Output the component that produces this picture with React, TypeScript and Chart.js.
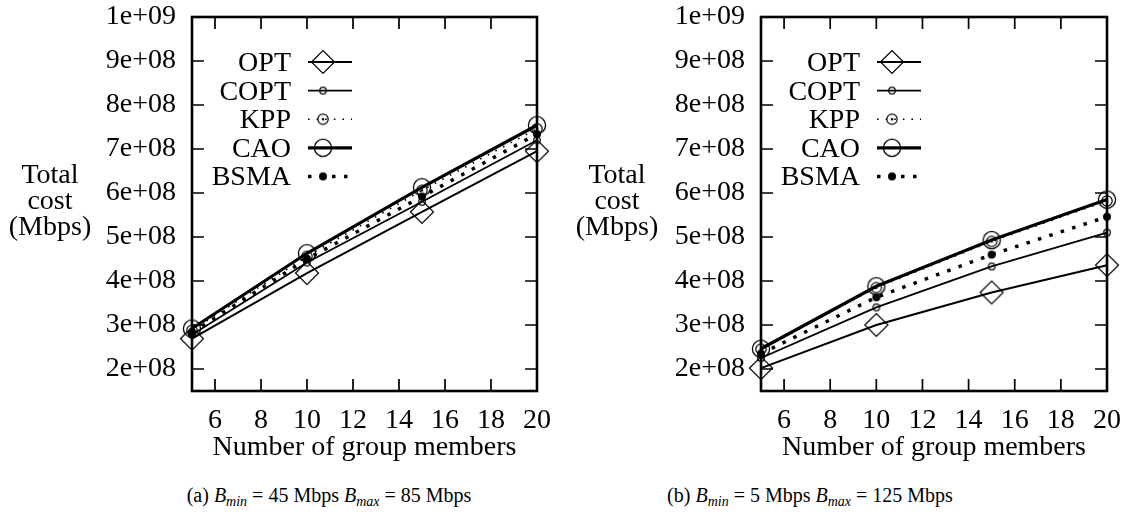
import React, { useEffect, useRef } from 'react';
import { Chart, registerables } from 'chart.js';

Chart.register(...registerables);

// ---------- data ----------
const members = [5, 10, 15, 20];
const xTickValues = [6, 8, 10, 12, 14, 16, 18, 20];
const yTickValues = [2e8, 3e8, 4e8, 5e8, 6e8, 7e8, 8e8, 9e8, 1e9];
const yTickLabels = ['2e+08', '3e+08', '4e+08', '5e+08', '6e+08', '7e+08', '8e+08', '9e+08', '1e+09'];
const seriesNames = ['OPT', 'COPT', 'KPP', 'CAO', 'BSMA'];

// panel (a): Bmin = 45, Bmax = 85
const optA = [2.69e8, 4.18e8, 5.57e8, 6.95e8];
const coptA = [2.78e8, 4.42e8, 5.8e8, 7.2e8];
const kppA = [2.88e8, 4.56e8, 6.06e8, 7.46e8];
const caoA = [2.92e8, 4.63e8, 6.13e8, 7.54e8];
const bsmaA = [2.83e8, 4.5e8, 5.92e8, 7.34e8];

// panel (b): Bmin = 5, Bmax = 125
const optB = [2.02e8, 3.0e8, 3.74e8, 4.36e8];
const coptB = [2.25e8, 3.4e8, 4.33e8, 5.1e8];
const kppB = [2.45e8, 3.85e8, 4.9e8, 5.82e8];
const caoB = [2.46e8, 3.88e8, 4.93e8, 5.85e8];
const bsmaB = [2.35e8, 3.63e8, 4.6e8, 5.46e8];

const xMin = 5;
const xMax = 20;
const yMin = 1.5e8;
const yMax = 1e9;

// ---------- styles ----------
const FONT = '"Liberation Serif", "Times New Roman", serif';
const FONT_SIZE = 28;
const CANVAS_H = 470;
const AREA_TOP = 17;
const AREA_BOTTOM = 391;

type MarkerKind = 'diamond' | 'smallCircle' | 'dotCircle' | 'bigCircle' | 'filled';

function makeMarker(kind: MarkerKind): HTMLCanvasElement {
  const c = document.createElement('canvas');
  const size = kind === 'diamond' ? 26 : kind === 'bigCircle' ? 22 : kind === 'dotCircle' ? 14 : 10;
  c.width = size;
  c.height = size;
  const g = c.getContext('2d')!;
  const m = size / 2;
  g.strokeStyle = '#000';
  g.fillStyle = '#000';
  g.lineWidth = 1.2;
  if (kind === 'diamond') {
    const r = 11.5;
    g.beginPath();
    g.moveTo(m - r, m);
    g.lineTo(m, m - r);
    g.lineTo(m + r, m);
    g.lineTo(m, m + r);
    g.closePath();
    g.stroke();
  } else if (kind === 'smallCircle') {
    g.beginPath();
    g.arc(m, m, 3.3, 0, Math.PI * 2);
    g.stroke();
  } else if (kind === 'dotCircle') {
    g.beginPath();
    g.arc(m, m, 5.2, 0, Math.PI * 2);
    g.stroke();
    g.beginPath();
    g.arc(m, m, 1.3, 0, Math.PI * 2);
    g.fill();
  } else if (kind === 'bigCircle') {
    g.lineWidth = 1.3;
    g.beginPath();
    g.arc(m, m, 8.6, 0, Math.PI * 2);
    g.stroke();
  } else {
    g.beginPath();
    g.arc(m, m, 4, 0, Math.PI * 2);
    g.fill();
  }
  return c;
}

const seriesStyles: { width: number; dash: number[]; marker: MarkerKind }[] = [
  { width: 2, dash: [], marker: 'diamond' },
  { width: 1.8, dash: [], marker: 'smallCircle' },
  { width: 1.6, dash: [1.6, 7], marker: 'dotCircle' },
  { width: 3.2, dash: [], marker: 'bigCircle' },
  { width: 3.5, dash: [3.5, 8.5], marker: 'filled' },
];

const framePlugin = {
  id: 'frame',
  beforeDatasetsDraw(chart: any) {
    const { ctx, chartArea: a, scales } = chart;
    const x = scales.x;
    const y = scales.y;
    ctx.save();
    ctx.strokeStyle = '#000';
    ctx.lineWidth = 1.7;
    ctx.beginPath();
    for (const v of xTickValues) {
      const px = x.getPixelForValue(v);
      ctx.moveTo(px, a.bottom);
      ctx.lineTo(px, a.bottom - 12);
      ctx.moveTo(px, a.top);
      ctx.lineTo(px, a.top + 12);
    }
    for (const v of yTickValues) {
      const py = y.getPixelForValue(v);
      ctx.moveTo(a.left, py);
      ctx.lineTo(a.left + 12, py);
      ctx.moveTo(a.right, py);
      ctx.lineTo(a.right - 12, py);
    }
    ctx.stroke();
    ctx.lineWidth = 2.6;
    ctx.strokeRect(a.left, a.top, a.right - a.left, a.bottom - a.top);
    ctx.restore();
  },
};

const legendPlugin = {
  id: 'innerLegend',
  afterDatasetsDraw(chart: any) {
    const { ctx, chartArea: a } = chart;
    ctx.save();
    ctx.font = `${FONT_SIZE}px ${FONT}`;
    ctx.textAlign = 'right';
    ctx.textBaseline = 'alphabetic';
    ctx.fillStyle = '#000';
    ctx.strokeStyle = '#000';
    chart.data.datasets.forEach((ds: any, i: number) => {
      const yy = a.top + 45 + i * 28.6;
      const tx = a.left + 99;
      ctx.fillText(ds.label, tx, yy + 9);
      const sx = tx + 17;
      const ex = sx + 44;
      ctx.setLineDash(ds.borderDash || []);
      ctx.lineWidth = ds.borderWidth;
      ctx.beginPath();
      ctx.moveTo(sx, yy);
      ctx.lineTo(ex, yy);
      ctx.stroke();
      ctx.setLineDash([]);
      const img = ds.pointStyle as HTMLCanvasElement;
      ctx.drawImage(img, sx + 15 - img.width / 2, yy - img.height / 2);
    });
    ctx.restore();
  },
};

function Panel(props: { values: number[][]; width: number; yWidth: number; padRight: number }) {
  const ref = useRef<HTMLCanvasElement | null>(null);
  useEffect(() => {
    if (!ref.current) return;
    const markers = seriesStyles.map((s) => makeMarker(s.marker));
    const datasets = seriesNames.map((name, i) => ({
      label: name,
      data: members.map((m, j) => ({ x: m, y: props.values[i][j] })),
      borderColor: '#000',
      backgroundColor: '#000',
      borderWidth: seriesStyles[i].width,
      borderDash: seriesStyles[i].dash,
      borderCapStyle: 'butt' as const,
      pointStyle: markers[i],
      pointRadius: 6,
      pointHoverRadius: 6,
      tension: 0,
      fill: false,
      clip: false as any,
    }));
    const chart = new Chart(ref.current, {
      type: 'line',
      data: { datasets },
      plugins: [framePlugin, legendPlugin],
      options: {
        animation: false,
        responsive: false,
        devicePixelRatio: 1,
        events: [],
        layout: { padding: { left: 0, top: AREA_TOP, right: props.padRight, bottom: 0 } },
        plugins: { legend: { display: false }, tooltip: { enabled: false }, title: { display: false } },
        scales: {
          x: {
            type: 'linear',
            min: xMin,
            max: xMax,
            grid: { display: false, drawTicks: false },
            border: { display: false },
            afterBuildTicks: (scale: any) => {
              scale.ticks = xTickValues.map((v) => ({ value: v }));
            },
            afterFit: (scale: any) => {
              scale.height = CANVAS_H - AREA_BOTTOM;
              scale.paddingLeft = 0;
              scale.paddingRight = 0;
            },
            ticks: {
              autoSkip: false,
              maxRotation: 0,
              minRotation: 0,
              padding: 13,
              color: '#000',
              font: { family: FONT, size: FONT_SIZE },
              callback: (v: any) => String(v),
            },
            title: {
              display: true,
              text: 'Number of group members',
              color: '#000',
              font: { family: FONT, size: FONT_SIZE },
              padding: { top: 0, bottom: 6 },
            },
          },
          y: {
            type: 'linear',
            min: yMin,
            max: yMax,
            grid: { display: false, drawTicks: false },
            border: { display: false },
            afterBuildTicks: (scale: any) => {
              scale.ticks = yTickValues.map((v) => ({ value: v }));
            },
            afterFit: (scale: any) => {
              scale.width = props.yWidth;
              scale.paddingTop = 0;
              scale.paddingBottom = 0;
            },
            ticks: {
              padding: 16,
              color: '#000',
              font: { family: FONT, size: FONT_SIZE },
              callback: (_v: any, i: number) => yTickLabels[i],
            },
          },
        },
      },
    });
    return () => chart.destroy();
  }, []);
  return <canvas ref={ref} width={props.width} height={CANVAS_H} style={{ display: 'block' }} />;
}

function YTitle(props: { cx: number }) {
  return (
    <div
      style={{
        position: 'absolute',
        left: props.cx - 70,
        width: 140,
        top: 160.5,
        textAlign: 'center',
        fontSize: FONT_SIZE,
        lineHeight: '26px',
      }}
    >
      Total
      <br />
      cost
      <br />
      (Mbps)
    </div>
  );
}

function Caption(props: { cx: number; tag: string; bmin: string; bmax: string }) {
  const sub: React.CSSProperties = { fontSize: 14, lineHeight: 0, verticalAlign: '-4px', fontStyle: 'italic' };
  return (
    <div
      style={{
        position: 'absolute',
        left: props.cx - 250,
        width: 500,
        top: 485,
        textAlign: 'center',
        fontSize: 20,
        lineHeight: '20px',
        whiteSpace: 'nowrap',
      }}
    >
      ({props.tag}) <i>B</i>
      <span style={sub}>min</span> = {props.bmin} Mbps <i>B</i>
      <span style={sub}>max</span> = {props.bmax} Mbps
    </div>
  );
}

export default function App() {
  return (
    <div
      style={{
        position: 'absolute',
        left: 0,
        top: 0,
        width: 1121,
        height: 517,
        background: '#fff',
        color: '#000',
        fontFamily: FONT,
        overflow: 'hidden',
      }}
    >
      <div style={{ position: 'absolute', left: 0, top: 0 }}>
        <Panel values={[optA, coptA, kppA, caoA, bsmaA]} width={560} yWidth={192} padRight={23} />
      </div>
      <div style={{ position: 'absolute', left: 560, top: 0 }}>
        <Panel values={[optB, coptB, kppB, caoB, bsmaB]} width={561} yWidth={201} padRight={14} />
      </div>
      <YTitle cx={50} />
      <YTitle cx={617} />
      <Caption cx={329} tag="a" bmin="45" bmax="85" />
      <Caption cx={810} tag="b" bmin="5" bmax="125" />
    </div>
  );
}
